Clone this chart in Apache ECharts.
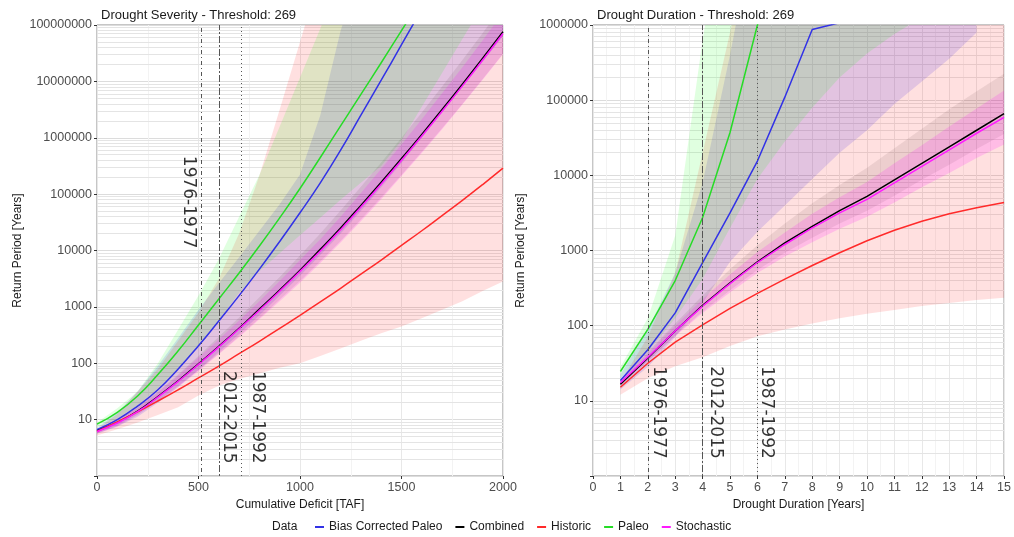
<!DOCTYPE html>
<html>
<head>
<meta charset="utf-8">
<title>Drought Severity / Duration return periods</title>
<script src="https://cdn.jsdelivr.net/npm/echarts@6/dist/echarts.min.js"></script>
<style>
  html, body { margin: 0; padding: 0; background: #fff; }
  #chart { width: 1014px; height: 537px; }
</style>
</head>
<body>
<div id="chart"></div>
<script>
// return periods are kept as log10(years)
const severityX = [0, 100, 200, 300, 400, 500, 600, 700, 800, 900, 1000, 1100, 1200, 1300, 1400, 1500, 1600, 1700, 1800, 1900, 2000]
const sevBiasLog = [0.82, 1.0, 1.24, 1.53, 1.9, 2.31, 2.75, 3.2, 3.67, 4.16, 4.67, 5.2, 5.78, 6.4, 7.02, 7.65, 8.28, null, null, null, null]
const sevCombinedLog = [0.8, 0.95, 1.15, 1.41, 1.69, 1.99, 2.3, 2.62, 2.96, 3.3, 3.65, 4.02, 4.4, 4.8, 5.21, 5.63, 6.06, 6.5, 6.95, 7.41, 7.88]
const sevHistoricLog = [0.79, 0.96, 1.14, 1.33, 1.53, 1.74, 1.95, 2.17, 2.39, 2.62, 2.85, 3.09, 3.33, 3.58, 3.83, 4.09, 4.35, 4.62, 4.89, 5.17, 5.46]
const sevPaleoLog = [0.92, 1.13, 1.42, 1.8, 2.22, 2.68, 3.14, 3.6, 4.08, 4.58, 5.1, 5.65, 6.21, 6.77, 7.33, 7.9, 8.47, null, null, null, null]
const sevStochLog = [0.79, 0.94, 1.14, 1.4, 1.68, 1.98, 2.29, 2.61, 2.94, 3.28, 3.63, 3.99, 4.37, 4.77, 5.18, 5.6, 6.03, 6.47, 6.92, 7.38, 7.85]

// confidence ribbons (lower / upper, log10)
const sevBiasLow = [0.75, 0.88, 1.05, 1.3, 1.58, 1.88, 2.2, 2.52, 2.85, 3.2, 3.55, 3.92, 4.3, 4.7, 5.12, 5.55, 6.0, 6.45, 6.9, 7.35, 7.8]
const sevBiasHigh = [0.85, 1.12, 1.5, 1.95, 2.45, 2.95, 3.42, 3.88, 4.35, 4.82, 5.35, 6.4, 7.9, 9, 9, 9, 9, 9, 9, 9, 9]
const sevCombinedLow = [0.76, 0.89, 1.09, 1.33, 1.6, 1.88, 2.17, 2.48, 2.8, 3.13, 3.46, 3.81, 4.17, 4.55, 4.94, 5.34, 5.75, 6.17, 6.6, 7.04, 7.49]
const sevCombinedHigh = [0.84, 1.0, 1.22, 1.5, 1.8, 2.13, 2.47, 2.81, 3.17, 3.53, 3.91, 4.3, 4.71, 5.13, 5.56, 6.0, 6.45, 6.91, 7.38, 7.86, 8.35]
const sevHistoricLow = [0.72, 0.83, 0.95, 1.08, 1.22, 1.43, 1.6, 1.72, 1.82, 1.92, 2.0, 2.13, 2.26, 2.4, 2.53, 2.65, 2.8, 2.95, 3.1, 3.28, 3.45]
const sevHistoricHigh = [0.82, 1.1, 1.5, 1.9, 2.4, 2.9, 3.5, 4.3, 5.33, 6.5, 7.7, 8.9, 9, 9, 9, 9, 9, 9, 9, 9, 9]
const sevPaleoLow = [0.85, 1.02, 1.25, 1.55, 1.9, 2.3, 2.75, 3.25, 3.63, 3.95, 4.27, 4.58, 4.9, 5.2, 5.5, 5.95, 6.55, 7.15, 7.75, 8.35, 8.95]
const sevPaleoHigh = [0.95, 1.2, 1.5, 2.0, 2.6, 3.2, 3.85, 4.6, 5.34, 6.2, 7.07, 7.94, 8.8, 9, 9, 9, 9, 9, 9, 9, 9]
const sevStochLow = [0.75, 0.88, 1.08, 1.32, 1.58, 1.86, 2.16, 2.46, 2.78, 3.1, 3.43, 3.78, 4.14, 4.52, 4.91, 5.32, 5.73, 6.15, 6.59, 7.03, 7.48]
const sevStochHigh = [0.83, 0.99, 1.2, 1.48, 1.78, 2.1, 2.42, 2.76, 3.1, 3.46, 3.83, 4.2, 4.6, 5.02, 5.45, 5.88, 6.33, 6.79, 7.25, 7.73, 8.22]

const durationX = [1, 2, 3, 4, 5, 6, 7, 8, 9, 10, 11, 12, 13, 14, 15]
const durBiasLog = [1.27, 1.68, 2.17, 2.84, 3.5, 4.19, 5.04, 5.94, 6.03, null, null, null, null, null, null]
const durCombinedLog = [1.22, 1.57, 1.93, 2.27, 2.57, 2.85, 3.1, 3.32, 3.53, 3.72, 3.94, 4.16, 4.38, 4.6, 4.82]
const durHistoricLog = [1.18, 1.5, 1.78, 2.01, 2.23, 2.43, 2.62, 2.8, 2.97, 3.13, 3.27, 3.39, 3.49, 3.57, 3.64]
const durPaleoLog = [1.39, 1.95, 2.6, 3.44, 4.57, 6.0, 7.5, null, null, null, null, null, null, null, null]
const durStochLog = [1.24, 1.58, 1.93, 2.26, 2.56, 2.84, 3.08, 3.3, 3.5, 3.68, 3.9, 4.12, 4.34, 4.56, 4.77]

const durBiasLow = [1.15, 1.45, 1.85, 2.3, 2.85, 3.25, 3.6, 3.95, 4.3, 4.6, 4.95, 5.25, 5.55, 5.9, null]
const durBiasHigh = [1.35, 1.95, 2.7, 3.9, 5.6, 7.5, 8, 8, 8, 8, 8, 8, 8, 8, null]
const durCombinedLow = [1.2, 1.53, 1.87, 2.19, 2.47, 2.74, 2.97, 3.17, 3.36, 3.53, 3.73, 3.94, 4.14, 4.35, 4.55]
const durCombinedHigh = [1.28, 1.65, 2.03, 2.4, 2.75, 3.07, 3.36, 3.63, 3.87, 4.1, 4.36, 4.62, 4.88, 5.12, 5.35]
const durHistoricLow = [1.08, 1.3, 1.46, 1.58, 1.73, 1.86, 1.95, 2.03, 2.1, 2.16, 2.21, 2.26, 2.3, 2.34, 2.37]
const durHistoricHigh = [1.25, 1.85, 2.7, 4.3, 5.9, 7.5, 8, 8, 8, 8, 8, 8, 8, 8, 8]
const durPaleoLow = [1.3, 1.65, 2.1, 2.62, 3.3, 3.95, 4.45, 4.9, 5.3, 5.62, 5.88, 6.1, null, null, null]
const durPaleoHigh = [1.45, 2.1, 3.2, 5.8, 8, 8, 8, 8, 8, 8, 8, 8, null, null, null]
const durStochLow = [1.21, 1.53, 1.86, 2.17, 2.44, 2.7, 2.92, 3.11, 3.29, 3.45, 3.64, 3.84, 4.03, 4.23, 4.41]
const durStochHigh = [1.27, 1.63, 2.0, 2.35, 2.68, 2.98, 3.24, 3.49, 3.71, 3.91, 4.16, 4.4, 4.65, 4.89, 5.13]

// historic droughts marked on both panels
const eventNames = ['1976-1977', '2012-2015', '1987-1992']
const severityEventX = [515, 600, 713]
const durationEventX = [2, 4, 6]
const severityLabelY = [72000, 11, 11]
const durationLabelY = [7, 7, 7]

const seriesNames = ['Bias Corrected Paleo', 'Combined', 'Historic', 'Paleo', 'Stochastic']
const lineColors = ['#3232e6', '#000000', '#ff2a2a', '#26dc26', '#ff1aff']
const bandColors = ['rgba(0,0,255,0.13)', 'rgba(0,0,0,0.08)', 'rgba(255,0,0,0.12)', 'rgba(0,255,0,0.12)', 'rgba(255,0,255,0.16)']

const font = 'Liberation Sans, Arial, sans-serif'

function toPoints(xs, logs) {
  const out = []
  xs.forEach(function (x, i) {
    if (logs[i] != null) out.push([x, Math.pow(10, logs[i])])
  })
  return out
}

function bandSeries(xs, low, high, fill, idx) {
  return {
    type: 'custom',
    xAxisIndex: idx,
    yAxisIndex: idx,
    silent: true,
    clip: true,
    z: 2,
    data: [[xs[0], 1]],
    renderItem: function (params, api) {
      const top = []
      const bottom = []
      xs.forEach(function (x, i) {
        if (low[i] == null || high[i] == null) return
        top.push(api.coord([x, Math.pow(10, high[i])]))
        bottom.push(api.coord([x, Math.pow(10, low[i])]))
      })
      return {
        type: 'polygon',
        shape: { points: top.concat(bottom.reverse()) },
        style: { fill: fill },
      }
    },
  }
}

function lineSeries(k, xs, logs, idx, smooth) {
  return {
    type: 'line',
    name: seriesNames[k],
    xAxisIndex: idx,
    yAxisIndex: idx,
    data: toPoints(xs, logs),
    symbol: 'none',
    smooth: smooth,
    silent: true,
    z: 4,
    lineStyle: { color: lineColors[k], width: 1.5 },
    itemStyle: { color: lineColors[k] },
  }
}

// log gridlines at 2..9 x 10^k, ggplot style
function minorGrid(idx, decades) {
  const lines = []
  for (let k = 0; k < decades; k++) {
    for (let m = 2; m <= 9; m++) lines.push({ yAxis: m * Math.pow(10, k) })
  }
  return {
    type: 'line',
    xAxisIndex: idx,
    yAxisIndex: idx,
    data: [],
    silent: true,
    z: 1,
    markLine: {
      silent: true,
      z: 1,
      symbol: 'none',
      label: { show: false },
      lineStyle: { color: '#e4e4e4', width: 1, type: 'solid' },
      data: lines,
    },
  }
}

const dashes = [[1, 3, 4, 3], [2, 2, 7, 2], [1, 3]]

function eventLines(idx, xs) {
  return {
    type: 'line',
    xAxisIndex: idx,
    yAxisIndex: idx,
    data: [],
    silent: true,
    z: 5,
    markLine: {
      silent: true,
      symbol: 'none',
      label: { show: false },
      data: xs.map(function (x, i) {
        return { xAxis: x, lineStyle: { color: '#555', width: 1, type: dashes[i] } }
      }),
    },
  }
}

// label offset is applied in the rotated frame, so [0, -dx] shifts it dx to the right
function eventLabels(idx, xs, ys, shifts) {
  return {
    type: 'scatter',
    xAxisIndex: idx,
    yAxisIndex: idx,
    symbolSize: 1,
    silent: true,
    z: 6,
    itemStyle: { color: 'rgba(0,0,0,0)' },
    label: {
      show: true,
      position: 'inside',
      rotate: -90,
      formatter: '{b}',
      fontFamily: 'DejaVu Sans',
      fontSize: 17,
      color: '#000',
    },
    data: xs.map(function (x, i) {
      return { name: eventNames[i], value: [x, ys[i]], label: { offset: [0, -shifts[i]] } }
    }),
  }
}

function logAxis(idx, max, decades) {
  return {
    type: 'log',
    logBase: 10,
    gridIndex: idx,
    min: 1,
    max: max,
    splitNumber: decades,
    name: 'Return Period [Years]',
    nameLocation: 'middle',
    nameGap: idx === 0 ? 73 : 66,
    nameTextStyle: { fontFamily: font, fontSize: 12, color: '#1a1a1a' },
    axisLine: { show: false },
    axisTick: { show: true, length: 3, lineStyle: { color: '#333' } },
    axisLabel: {
      fontFamily: font,
      fontSize: 12.5,
      color: '#4d4d4d',
      margin: 5,
      formatter: function (v) { return v < 5 ? '' : String(Math.round(v)) },
    },
    splitLine: { show: true, lineStyle: { color: '#dcdcdc', width: 1 } },
  }
}

function valueAxis(idx, max, interval, name) {
  return {
    type: 'value',
    gridIndex: idx,
    min: 0,
    max: max,
    interval: interval,
    name: name,
    nameLocation: 'middle',
    nameGap: 21,
    nameTextStyle: { fontFamily: font, fontSize: 12, color: '#1a1a1a' },
    axisLine: { show: false },
    axisTick: { show: true, length: 3, lineStyle: { color: '#333' } },
    axisLabel: {
      fontFamily: font,
      fontSize: 12.5,
      color: '#4d4d4d',
      margin: 5,
      formatter: function (v) { return String(v) },
    },
    splitLine: { show: true, lineStyle: { color: '#e8e8e8', width: 1 } },
    minorTick: { show: false, splitNumber: 2 },
    minorSplitLine: { show: true, lineStyle: { color: '#f3f3f3', width: 1 } },
  }
}

const chart = echarts.init(document.getElementById('chart'))

const series = []
const sevBands = [[sevBiasLow, sevBiasHigh], [sevCombinedLow, sevCombinedHigh], [sevHistoricLow, sevHistoricHigh], [sevPaleoLow, sevPaleoHigh], [sevStochLow, sevStochHigh]]
const durBands = [[durBiasLow, durBiasHigh], [durCombinedLow, durCombinedHigh], [durHistoricLow, durHistoricHigh], [durPaleoLow, durPaleoHigh], [durStochLow, durStochHigh]]
const sevLines = [sevBiasLog, sevCombinedLog, sevHistoricLog, sevPaleoLog, sevStochLog]
const durLines = [durBiasLog, durCombinedLog, durHistoricLog, durPaleoLog, durStochLog]

series.push(minorGrid(0, 8), minorGrid(1, 6))
sevBands.forEach(function (b, k) { series.push(bandSeries(severityX, b[0], b[1], bandColors[k], 0)) })
durBands.forEach(function (b, k) { series.push(bandSeries(durationX, b[0], b[1], bandColors[k], 1)) })
sevLines.forEach(function (l, k) { series.push(lineSeries(k, severityX, l, 0, true)) })
durLines.forEach(function (l, k) { series.push(lineSeries(k, durationX, l, 1, false)) })
series.push(eventLines(0, severityEventX), eventLines(1, durationEventX))
series.push(eventLabels(0, severityEventX, severityLabelY, [-13, 10, 16]))
series.push(eventLabels(1, durationEventX, durationLabelY, [11, 13, 9]))

const option = {
  animation: false,
  textStyle: { fontFamily: font },
  title: [
    { text: 'Drought Severity - Threshold: 269', left: 96, top: 4, textStyle: { fontFamily: font, fontSize: 13, fontWeight: 'normal', color: '#1a1a1a' } },
    { text: 'Drought Duration - Threshold: 269', left: 592, top: 4, textStyle: { fontFamily: font, fontSize: 13, fontWeight: 'normal', color: '#1a1a1a' } },
  ],
  grid: [
    { left: 97, top: 25, width: 406, height: 451, show: true, borderColor: '#8c8c8c', borderWidth: 1, backgroundColor: '#fff' },
    { left: 593, top: 25, width: 414, height: 451, show: true, borderColor: '#8c8c8c', borderWidth: 1, backgroundColor: '#fff' },
  ],
  xAxis: [
    valueAxis(0, 2000, 500, 'Cumulative Deficit [TAF]'),
    valueAxis(1, 15, 1, 'Drought Duration [Years]'),
  ],
  yAxis: [logAxis(0, 1e8, 8), logAxis(1, 1e6, 6)],
  legend: {
    data: seriesNames,
    left: 310,
    top: 516,
    itemWidth: 9,
    itemHeight: 2,
    itemGap: 13,
    icon: 'rect',
    selectedMode: false,
    textStyle: { fontFamily: font, fontSize: 12, color: '#1a1a1a' },
  },
  graphic: [
    { type: 'text', left: 272, top: 521, style: { text: 'Data', fontFamily: font, fontSize: 12, fill: '#1a1a1a' } },
  ],
  series: series,
}

chart.setOption(option)
</script>
</body>
</html>
